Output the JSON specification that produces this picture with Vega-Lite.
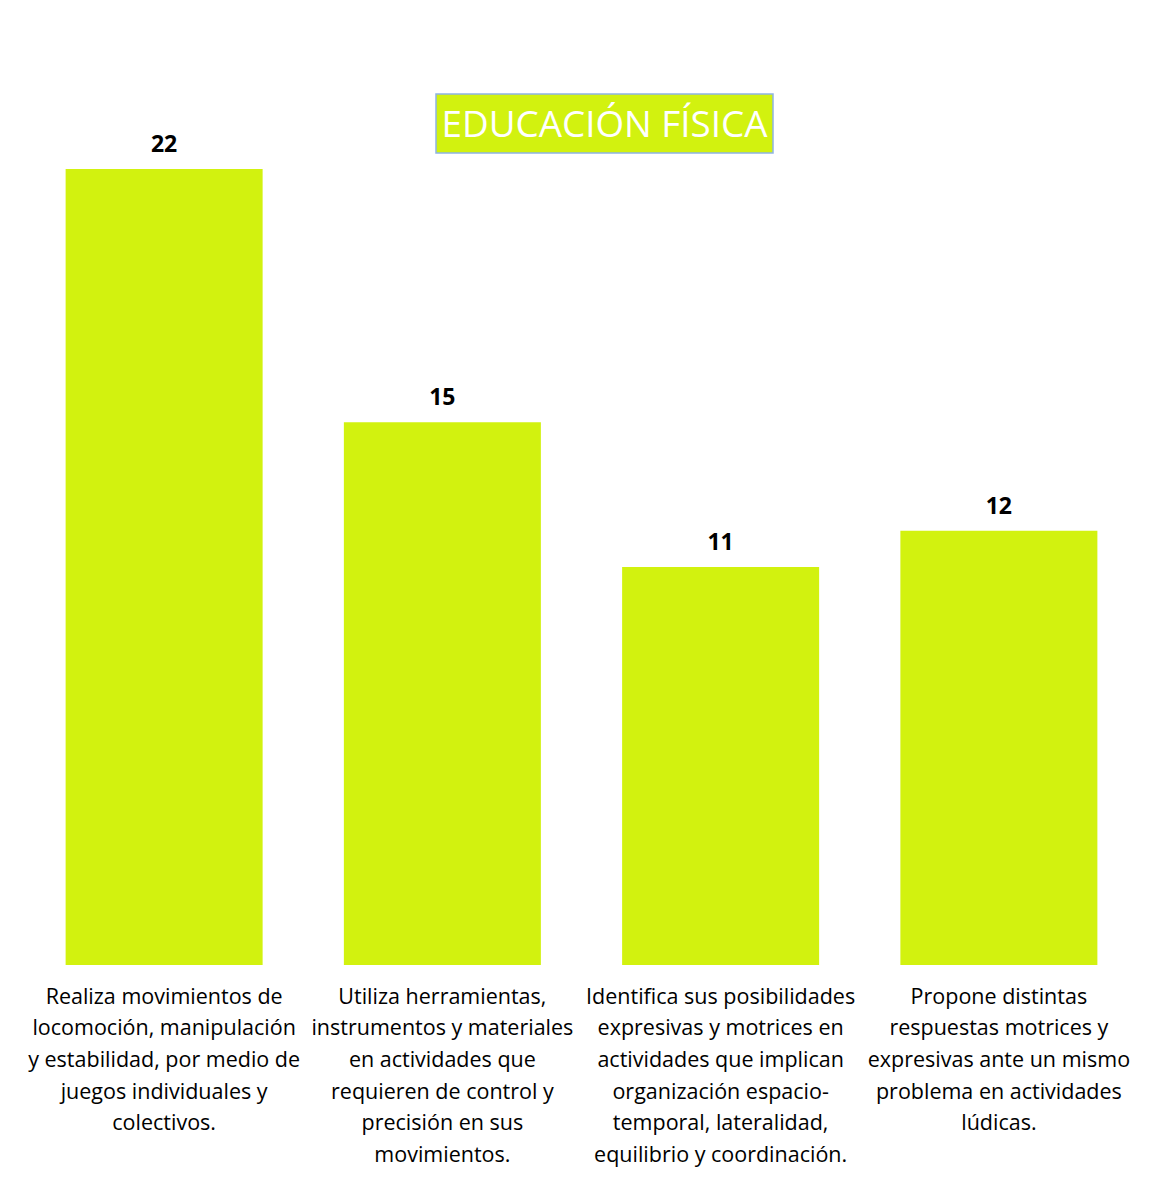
{
  "$schema": "https://vega.github.io/schema/vega-lite/v6.json",
  "padding": {"left": 25, "top": 93, "right": 10, "bottom": 30},
  "background": "white",
  "bounds": "flush",
  "spacing": 75,
  "config": {
    "view": {"stroke": null},
    "font": "Open Sans"
  },
  "vconcat": [
    {
      "hconcat": [
        {
          "width": 411,
          "height": 59,
          "data": {"values": [{"t": ""}]},
          "mark": {"type": "text"},
          "encoding": {"text": {"field": "t"}}
        },
        {
          "width": 337,
          "height": 59,
          "data": {"values": [{"title": "EDUCACIÓN FÍSICA"}]},
          "layer": [
            {
              "mark": {"type": "rect", "fill": "#d2f20f", "stroke": "#8eb4e3", "strokeWidth": 1.5}
            },
            {
              "mark": {"type": "text", "font": "Open Sans", "fontSize": 36.8, "color": "white", "baseline": "alphabetic", "align": "center", "dy": 13.5},
              "encoding": {"text": {"field": "title"}}
            }
          ]
        }
      ],
      "spacing": 0,
      "bounds": "flush"
    },
    {
      "width": 1113,
      "height": 796,
      "data": {
        "values": [
          {"criterio": "Realiza movimientos de|locomoción, manipulación|y estabilidad, por medio de|juegos individuales y|colectivos.", "valor": 22},
          {"criterio": "Utiliza herramientas,|instrumentos y materiales|en actividades que|requieren de control y|precisión en sus|movimientos.", "valor": 15},
          {"criterio": "Identifica sus posibilidades|expresivas y motrices en|actividades que implican|organización espacio-|temporal, lateralidad,|equilibrio y coordinación.", "valor": 11},
          {"criterio": "Propone distintas|respuestas motrices y|expresivas ante un mismo|problema en actividades|lúdicas.", "valor": 12}
        ]
      },
      "encoding": {
        "x": {
          "field": "criterio",
          "type": "nominal",
          "sort": null,
          "scale": {"paddingInner": 0.292, "paddingOuter": 0.146},
          "axis": {
            "title": null,
            "domain": false,
            "ticks": false,
            "tickSize": 0,
            "labelAngle": 0,
            "labelFont": "Open Sans",
            "labelFontSize": 21.5,
            "labelColor": "#000000",
            "labelLineHeight": 31.7,
            "labelBaseline": "alphabetic",
            "labelPadding": 38,
            "labelLimit": 0,
            "labelExpr": "split(datum.label, '|')"
          }
        },
        "y": {
          "field": "valor",
          "type": "quantitative",
          "scale": {"domain": [0, 22], "nice": false, "zero": true},
          "axis": null
        }
      },
      "layer": [
        {"mark": {"type": "bar", "color": "#d2f20f"}},
        {
          "mark": {"type": "text", "font": "Open Sans", "fontWeight": "bold", "fontSize": 23, "color": "black", "baseline": "alphabetic", "dy": -17},
          "encoding": {"text": {"field": "valor", "type": "quantitative"}}
        }
      ]
    }
  ]
}
